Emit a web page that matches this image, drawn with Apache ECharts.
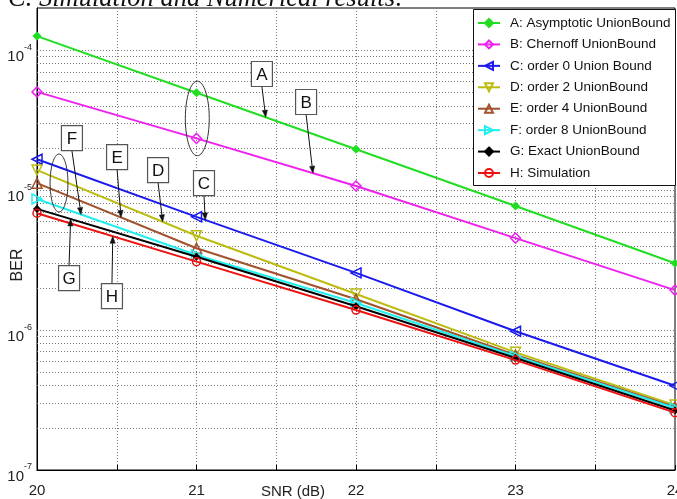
<!DOCTYPE html>
<html><head><meta charset="utf-8">
<script src="https://cdn.jsdelivr.net/npm/echarts@6/dist/echarts.min.js"></script>
<style>html,body{margin:0;padding:0;background:#fff}#c{width:677px;height:499px}</style>
</head><body><div id="c"></div>
<script>
// ---------- data ----------
const snr = [20, 21, 22, 23, 24];
const serA = [1.26e-4, 4.96e-5, 1.96e-5, 7.7e-6, 3.0e-6];
const serB = [5.03e-5, 2.34e-5, 1.07e-5, 4.54e-6, 1.93e-6];
const serC = [1.66e-5, 6.44e-6, 2.56e-6, 9.8e-7, 4.0e-7];
const serD = [1.39e-5, 4.72e-6, 1.81e-6, 6.93e-7, 2.91e-7];
const serE = [1.12e-5, 3.84e-6, 1.66e-6, 6.63e-7, 2.82e-7];
const serF = [8.63e-6, 3.44e-6, 1.56e-6, 6.5e-7, 2.77e-7];
const serG = [7.34e-6, 3.34e-6, 1.48e-6, 6.31e-7, 2.66e-7];
const serH = [6.83e-6, 3.08e-6, 1.39e-6, 6.1e-7, 2.57e-7];
const seriesNames = ['A: Asymptotic UnionBound', 'B: Chernoff UnionBound', 'C: order 0 Union Bound',
  'D: order 2 UnionBound', 'E: order 4 UnionBound', 'F: order 8 UnionBound', 'G: Exact UnionBound', 'H: Simulation'];
const xTickLabels = ['20', '21', '22', '23', '24'];
const yDecades = [-7, -6, -5, -4];
const titleText = 'C. Simulation and Numerical results:';
const xName = 'SNR (dB)';
const yName = 'BER';

// ---------- fonts ----------
function hasFont(name) {
  const c = document.createElement('canvas').getContext('2d');
  const s = 'Asymptotic UnionBound 0123456789';
  c.font = '16px serif'; const a = c.measureText(s).width;
  c.font = '16px "' + name + '", serif'; const b = c.measureText(s).width;
  return Math.abs(a - b) > 0.5;
}
const narrow = hasFont('Liberation Sans Narrow');
const FF = narrow ? '"Liberation Sans Narrow", "Liberation Sans", sans-serif' : '"Liberation Sans", Arial, sans-serif';
const FS = narrow ? 16 : 13;

// ---------- styles ----------
const styles = [
  { color: '#22dd22', symbol: 'diamond', size: 7, filled: true },
  { color: '#ee22ee', symbol: 'diamond', size: 10, filled: false },
  { color: '#1a1aee', symbol: 'path://M0,5L10,0L10,10Z', size: 10, filled: false },
  { color: '#bcbc10', symbol: 'path://M0,0L10,0L5,10Z', size: 10, filled: false },
  { color: '#a0522d', symbol: 'triangle', size: 10, filled: false },
  { color: '#22eeee', symbol: 'path://M0,0L10,5L0,10Z', size: 10, filled: false },
  { color: '#000000', symbol: 'diamond', size: 6, filled: true },
  { color: '#ee1111', symbol: 'circle', size: 8, filled: false }
];
const allSeries = [serA, serB, serC, serD, serE, serF, serG, serH];

const chart = echarts.init(document.getElementById('c'), null, { renderer: 'canvas' });

// horizontal grid lines (major + minor per decade)
const gridVals = [];
yDecades.forEach(d => { for (let m = 1; m <= 9; m++) { const v = m * Math.pow(10, d); if (v > 1.01e-7 && v < 1.99e-4) gridVals.push(v); } });

const series = [{
  name: '_grid', type: 'lines', coordinateSystem: 'cartesian2d', silent: true, z: 1,
  polyline: false, symbol: ['none', 'none'],
  lineStyle: { color: '#777', type: [1, 2], width: 1, opacity: 1 },
  emphasis: { disabled: true },
  data: gridVals.map(v => ({ coords: [[snr[0], v], [snr[snr.length - 1], v]] }))
}];
allSeries.forEach((vals, i) => {
  const st = styles[i];
  series.push({
    name: seriesNames[i], type: 'line', z: 2 + i * 0.01,
    data: snr.map((x, k) => [x, vals[k]]),
    symbol: st.symbol, symbolSize: st.size, showAllSymbol: true,
    lineStyle: { color: st.color, width: 2 },
    itemStyle: { color: st.filled ? st.color : 'rgba(255,255,255,0)', borderColor: st.color, borderWidth: 1.5 },
    emphasis: { disabled: true }
  });
});

const option = {
  animation: false,
  backgroundColor: '#fff',
  grid: { left: 37, right: 2, top: 8, bottom: 29, show: true, borderColor: '#000', borderWidth: 1,
    backgroundColor: 'transparent', containLabel: false, outerBoundsMode: 'none' },
  xAxis: {
    type: 'value', min: 20, max: 24, interval: 0.5,
    axisLine: { lineStyle: { color: '#000', width: 1 } },
    axisTick: { inside: true, length: 5, lineStyle: { color: '#000' } },
    splitLine: { show: true, lineStyle: { color: '#777', type: [1, 2], width: 1 } },
    axisLabel: { margin: 13, color: '#222', fontFamily: FF, fontSize: FS + 2, hideOverlap: false,
      formatter: v => { const i = snr.indexOf(v); return i >= 0 ? xTickLabels[i] : ''; } }
  },
  yAxis: {
    type: 'log', logBase: 10, min: 1e-7, max: 2e-4,
    axisLine: { show: true, lineStyle: { color: '#000', width: 1 } },
    axisTick: { show: false },
    splitLine: { show: false },
    axisLabel: {
      margin: 5, color: '#222', padding: [7, 0, 0, 0],
      formatter: v => { const e = Math.log10(v); const r = Math.round(e); if (Math.abs(e - r) > 1e-6 || yDecades.indexOf(r) < 0) return ''; return '{b|10}{s|' + r + '}'; },
      rich: {
        b: { fontFamily: FF, fontSize: FS + 2, color: '#222', verticalAlign: 'bottom', lineHeight: 22 },
        s: { fontFamily: FF, fontSize: FS - 4, color: '#222', verticalAlign: 'top', lineHeight: 22 }
      }
    }
  },
  legend: {
    data: seriesNames, orient: 'vertical', left: 473, top: 9, z: 6,
    padding: [6, 6, 4, 4], itemWidth: 22, itemHeight: 10, itemGap: 5.43,
    textStyle: { fontFamily: FF, fontSize: FS + 0.5, color: '#111', lineHeight: 16, padding: [0, 0, 0, 5] },
    selectedMode: false
  },
  series: series
};
chart.setOption(option);

// ---------- annotations (anchored in data coordinates) ----------
function onSeries(vals, x) {
  const i = Math.min(Math.floor(x - 20), 3);
  const t = x - snr[i];
  const a = Math.log10(vals[i]), b = Math.log10(vals[i + 1]);
  return Math.pow(10, a + (b - a) * t);
}
const annBoxes = [
  { label: 'A', box: [21.41, 6.75e-5], tipX: 21.434, s: 0, from: 'bottom' },
  { label: 'B', box: [21.687, 4.26e-5], tipX: 21.73, s: 1, from: 'bottom' },
  { label: 'C', box: [21.047, 1.12e-5], tipX: 21.055, s: 2, from: 'bottom' },
  { label: 'D', box: [20.759, 1.39e-5], tipX: 20.788, s: 3, from: 'bottom' },
  { label: 'E', box: [20.502, 1.72e-5], tipX: 20.527, s: 4, from: 'bottom' },
  { label: 'F', box: [20.219, 2.35e-5], tipX: 20.276, s: 5, from: 'bottom' },
  { label: 'G', box: [20.201, 2.35e-6], tipX: 20.211, s: 6, from: 'top' },
  { label: 'H', box: [20.47, 1.75e-6], tipX: 20.475, s: 7, from: 'top' }
];
const annEllipses = [
  { x: [20.93, 21.08], y: [1.76e-5, 6.0e-5] },
  { x: [20.082, 20.194], y: [6.97e-6, 1.81e-5] }
];
const P = (x, y) => chart.convertToPixel({ gridIndex: 0 }, [x, y]);
const BW = 21, BH = 25;
const graphics = [];
annEllipses.forEach(e => {
  const p1 = P(e.x[0], e.y[1]), p2 = P(e.x[1], e.y[0]);
  graphics.push({ type: 'ellipse', z: 5, silent: true,
    shape: { cx: (p1[0] + p2[0]) / 2, cy: (p1[1] + p2[1]) / 2, rx: (p2[0] - p1[0]) / 2, ry: (p2[1] - p1[1]) / 2 },
    style: { fill: 'none', stroke: '#333', lineWidth: 1 } });
});
annBoxes.forEach(a => {
  const c = P(a.box[0], a.box[1]);
  const tip = P(a.tipX, onSeries(allSeries[a.s], a.tipX));
  const start = [c[0], a.from === 'bottom' ? c[1] + BH / 2 : c[1] - BH / 2];
  const dx = tip[0] - start[0], dy = tip[1] - start[1];
  const L = Math.hypot(dx, dy), ux = dx / L, uy = dy / L;
  const hl = 7, hw = 2.6;
  const base = [tip[0] - ux * hl, tip[1] - uy * hl];
  graphics.push({ type: 'line', z: 5, silent: true, shape: { x1: start[0], y1: start[1], x2: base[0], y2: base[1] }, style: { stroke: '#111', lineWidth: 1 } });
  graphics.push({ type: 'polygon', z: 5, silent: true,
    shape: { points: [tip, [base[0] - uy * hw, base[1] + ux * hw], [base[0] + uy * hw, base[1] - ux * hw]] },
    style: { fill: '#111', stroke: '#111', lineWidth: 0.5 } });
  graphics.push({ type: 'rect', z: 5, silent: true, shape: { x: c[0] - BW / 2, y: c[1] - BH / 2, width: BW, height: BH },
    style: { fill: '#fff', stroke: '#555', lineWidth: 1.2 } });
  graphics.push({ type: 'text', z: 6, silent: true, x: c[0], y: c[1] + 1,
    style: { text: a.label, fontFamily: FF, fontSize: FS + 4, fill: '#111', align: 'center', verticalAlign: 'middle' } });
});
// legend frame
graphics.push({ type: 'rect', z: 3, silent: true, shape: { x: 473.5, y: 9.5, width: 202, height: 176 },
  style: { fill: '#fff', stroke: '#111', lineWidth: 1 } });
// axis titles & heading
graphics.push({ type: 'text', silent: true, x: 18, y: 265, rotation: Math.PI / 2,
  style: { text: yName, fontFamily: FF, fontSize: FS + 3, fill: '#222', align: 'center', verticalAlign: 'middle' } });
graphics.push({ type: 'text', silent: true, x: 293, y: 492,
  style: { text: xName, fontFamily: FF, fontSize: FS + 2, fill: '#222', align: 'center', verticalAlign: 'middle' } });
graphics.push({ type: 'text', silent: true, x: 8, y: 13,
  style: { text: titleText, fontFamily: '"Liberation Serif", "Times New Roman", serif', fontStyle: 'italic', fontSize: 26.5, fill: '#111', align: 'left', verticalAlign: 'bottom' } });
chart.setOption({ graphic: graphics });
</script>
</body></html>
